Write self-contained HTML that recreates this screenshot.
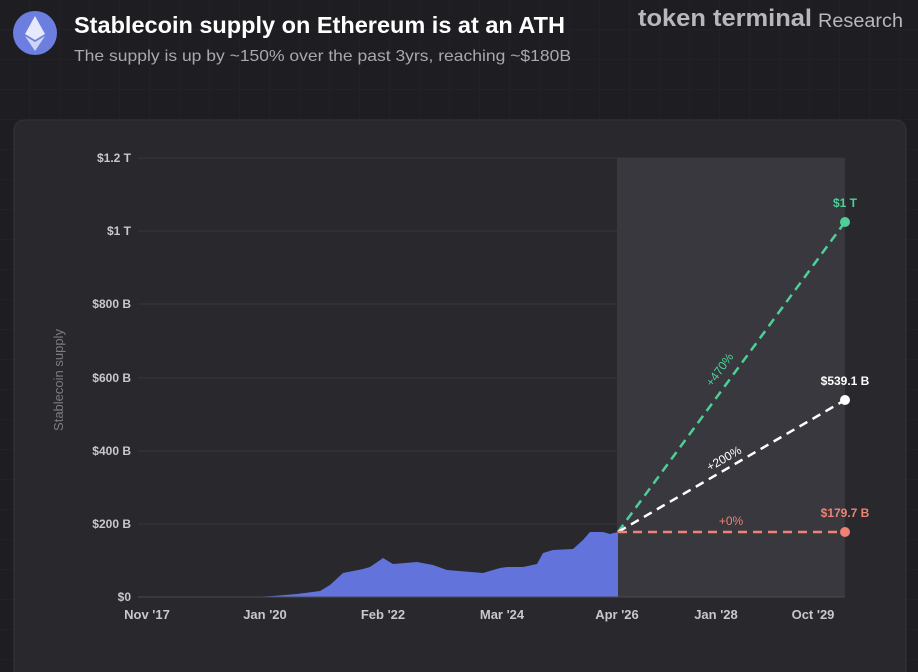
<!DOCTYPE html>
<html><head><meta charset="utf-8"><style>
body{margin:0;width:918px;height:672px;overflow:hidden;background:#1e1e22;font-family:"Liberation Sans",sans-serif;}
</style></head><body>
<svg width="918" height="672" xmlns="http://www.w3.org/2000/svg" style="position:absolute;left:0;top:0">
<defs><pattern id="g" width="30" height="30" patternUnits="userSpaceOnUse"><path d="M30 0V30H0" fill="none" stroke="#26262b" stroke-width="1"/></pattern></defs>
<rect width="918" height="672" fill="#1e1e22"/>
<rect width="918" height="672" fill="url(#g)"/>
<circle cx="35" cy="33" r="22" fill="#6c7ee0"/>
<polygon points="35,16 45,34 35,40 25,34" fill="#e6e9fb"/>
<polygon points="35,42 45,36 35,51 25,36" fill="#cfd5f5"/>
<text x="74" y="33" fill="#fff" font-size="23" font-weight="bold" textLength="491" lengthAdjust="spacingAndGlyphs">Stablecoin supply on Ethereum is at an ATH</text>
<text x="74" y="61" fill="#a8a8ae" font-size="16" textLength="497" lengthAdjust="spacingAndGlyphs">The supply is up by ~150% over the past 3yrs, reaching ~$180B</text>
<text x="638" y="26" fill="#b8b8bc" font-size="24" font-weight="bold" textLength="174" lengthAdjust="spacingAndGlyphs">token terminal</text>
<text x="818" y="27" fill="#b8b8bc" font-size="19" textLength="85" lengthAdjust="spacingAndGlyphs">Research</text>
<rect x="14" y="120" width="892" height="570" rx="10" fill="#28282d" stroke="#34343a"/>
<rect x="617" y="158" width="228" height="439" fill="#38383e"/>
<g stroke="#36363c" stroke-width="1">
<line x1="138" y1="158" x2="845" y2="158"/><line x1="138" y1="231" x2="845" y2="231"/><line x1="138" y1="304" x2="845" y2="304"/><line x1="138" y1="378" x2="845" y2="378"/><line x1="138" y1="451" x2="845" y2="451"/><line x1="138" y1="524" x2="845" y2="524"/>
</g>
<g fill="#c8c8cc" font-size="12" font-weight="bold" text-anchor="end">
<text x="131" y="162">$1.2 T</text><text x="131" y="235">$1 T</text><text x="131" y="308">$800 B</text><text x="131" y="382">$600 B</text><text x="131" y="455">$400 B</text><text x="131" y="528">$200 B</text><text x="131" y="601">$0</text>
</g>
<text transform="translate(63,380) rotate(-90)" fill="#7c7c84" font-size="13" text-anchor="middle">Stablecoin supply</text>
<polygon fill="#6274dc" points="150,597 250,597 273,596 297,594 320,591 330,585 343,573 363,569 370,567 383,558 393,564 417,562 433,565 447,570 483,573 500,568 507,567 523,567 537,564 543,553 553,550 573,549 583,540 590,532 603,532 610,534 618,532 618,597"/>
<line x1="138" y1="597" x2="845" y2="597" stroke="#4a4a50"/>
<g fill="#c8c8cc" font-size="13" font-weight="bold" text-anchor="middle">
<text x="147" y="619">Nov '17</text><text x="265" y="619">Jan '20</text><text x="383" y="619">Feb '22</text><text x="502" y="619">Mar '24</text><text x="617" y="619">Apr '26</text><text x="716" y="619">Jan '28</text><text x="813" y="619">Oct '29</text>
</g>
<g stroke-width="2.5" stroke-dasharray="9,6" fill="none">
<line x1="618" y1="532" x2="845" y2="222" stroke="#4fcf98"/>
<line x1="618" y1="532" x2="845" y2="400" stroke="#fff"/>
<line x1="618" y1="532" x2="845" y2="532" stroke="#ee8274"/>
</g>
<circle cx="845" cy="222" r="5" fill="#4fcf98"/><circle cx="845" cy="400" r="5" fill="#fff"/><circle cx="845" cy="532" r="5" fill="#ee8274"/>
<g font-size="12" font-weight="bold" text-anchor="middle">
<text x="845" y="207" fill="#4fcf98">$1 T</text>
<text x="845" y="385" fill="#fff">$539.1 B</text>
<text x="845" y="517" fill="#ee8274">$179.7 B</text>
</g>
<text x="731" y="525" fill="#ee8274" font-size="12" text-anchor="middle">+0%</text>
<text transform="translate(726,462) rotate(-30)" fill="#fff" font-size="12" text-anchor="middle">+200%</text>
<text transform="translate(723,372) rotate(-54)" fill="#4fcf98" font-size="12" text-anchor="middle">+470%</text>
</svg>
</body></html>
